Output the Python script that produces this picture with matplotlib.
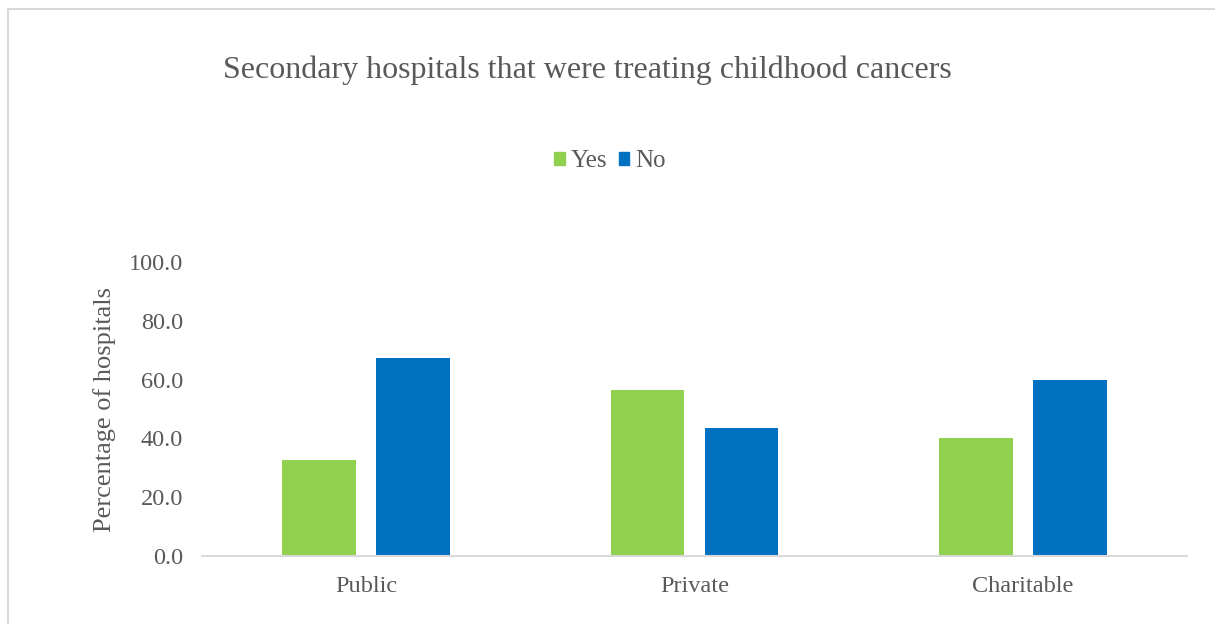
import numpy as np
import matplotlib.pyplot as plt
from matplotlib.patches import Rectangle, Patch

categories = ["Public", "Private", "Charitable"]
yes_pct = [32.7, 56.6, 40.0]
no_pct = [67.3, 43.4, 60.0]
yticks = [0, 20, 40, 60, 80, 100]

green = "#92D050"
blue = "#0070C0"
grey_text = "#595959"
grey_line = "#D9D9D9"

plt.rcParams['font.family'] = ['Liberation Serif', 'DejaVu Serif']

fig = plt.figure(figsize=(12.15, 6.24), dpi=100)
ax = fig.add_axes([202/1215, 1-555.5/624, 985/1215, 293/624])

x = np.arange(len(categories))
w = 0.225
off = 0.143
ax.bar(x - off, yes_pct, w, color=green, label="Yes")
ax.bar(x + off, no_pct, w, color=blue, label="No")

ax.set_xlim(-0.5, len(categories) - 0.5)
ax.set_ylim(0, 100)
ax.set_yticks(yticks)
ax.set_yticklabels([f"{v:.1f}" for v in yticks])
ax.set_xticks(x)
ax.set_xticklabels(categories)
ax.tick_params(axis='both', length=0, labelsize=17.5, colors=grey_text)
ax.tick_params(axis='y', pad=13.5)
ax.tick_params(axis='x', pad=15)
for s in ['top', 'right', 'left']:
    ax.spines[s].set_visible(False)
ax.spines['bottom'].set_color(grey_line)
ax.spines['bottom'].set_linewidth(1.5)

ax.set_ylabel("Percentage of hospitals", fontsize=19, color=grey_text, labelpad=9)

fig.text(587/1215, 1-70/624, "Secondary hospitals that were treating childhood cancers",
         ha='center', va='center', fontsize=23, color=grey_text)

handles = [Patch(color=green), Patch(color=blue)]
fig.legend(handles, ["Yes", "No"], loc='center', bbox_to_anchor=(610/1215, 1-161/624),
           ncol=2, frameon=False, fontsize=18, labelcolor=grey_text,
           handlelength=0.42, handleheight=0.42, handletextpad=0.25, columnspacing=0.45)

# outer chart frame, cut off at right and bottom
fig.patches.append(Rectangle((8/1215, -0.1), 1.2, 1.1 - 9/624, transform=fig.transFigure,
                             fill=False, edgecolor=grey_line, linewidth=1.5))

fig.savefig("out.png", dpi=100, facecolor="white")
